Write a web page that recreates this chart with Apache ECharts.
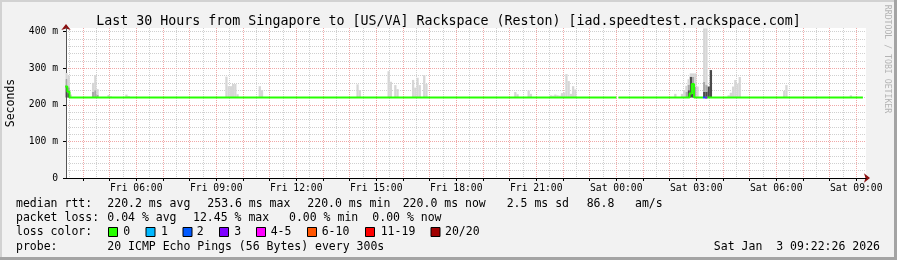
<!DOCTYPE html>
<html><head><meta charset="utf-8">
<script src="https://cdn.jsdelivr.net/npm/echarts@6/dist/echarts.min.js"></script>
<style>html,body{margin:0;padding:0;background:#f2f2f2}#c{width:897px;height:260px}</style>
</head><body><div id="c"></div>
<script>
// Time is expressed in minutes since Fri 00:00.
const axisStart = 202, axisEnd = 2002;
const tickLabels = ['Fri 06:00','Fri 09:00','Fri 12:00','Fri 15:00','Fri 18:00','Fri 21:00','Sat 00:00','Sat 03:00','Sat 06:00','Sat 09:00'];
const yTickValues = [0, 100, 200, 300, 400];

// Median RTT (ms) per loss colour; each point = [step end time, value]; null = no data
const medianLoss0 = [[200,250],[205,250],[210,236],[1440,220],[1445,null],[1450,220],[1605,220],[1610,231],[1615,257],[1635,220],[1640,null],[1645,220],[1995,220]];
const medianLoss2 = [[1635,220],[1640,220]];
const medianLoss3 = [[1640,220],[1645,220]];

// Smoke (ping spread, ms) per 5-minute step centre
const smokeFloor = 220;
const smokeTime = [202.5,207.5,212.5,262.5,267.5,272.5,297.5,302.5,337.5,342.5,
  562.5,567.5,572.5,577.5,582.5,587.5,637.5,642.5,857.5,862.5,
  927.5,932.5,942.5,947.5,982.5,987.5,992.5,997.5,1007.5,1012.5,
  1212.5,1217.5,1242.5,1247.5,1292.5,1297.5,1302.5,1307.5,1312.5,1317.5,
  1322.5,1327.5,1332.5,1337.5,1342.5,1347.5,1572.5,1587.5,1592.5,1597.5,
  1602.5,1607.5,1612.5,1617.5,1622.5,1637.5,1642.5,1647.5,1652.5,1692.5,
  1697.5,1702.5,1707.5,1712.5,1717.5,1817.5,1822.5,1967.5];
const smokeDarkTop = [250,232,220,220,220,220,220,220,220,220,
  220,220,220,220,220,220,220,220,220,220,
  220,220,220,220,220,220,220,220,220,220,
  220,220,220,220,220,220,220,220,220,220,
  220,220,220,220,220,220,220,220,220,220,
  240,277,230,220,220,236,236,250,295,220,
  220,220,220,220,220,220,220,220];
const smokeMidTop = [270,248,222,236,240,228,220,220,220,220,
  220,220,220,220,220,220,220,220,220,220,
  220,220,220,220,220,220,220,220,220,220,
  220,220,220,220,220,220,220,220,220,220,
  220,220,220,220,220,220,220,220,220,235,
  255,277,277,250,220,263,254,250,295,220,
  220,220,220,220,220,220,220,220];
const smokeTop = [287,280,228,260,281,243,227,223,228,224,
  277,251,251,257,257,229,251,240,256,240,
  292,263,254,243,268,247,274,254,281,257,
  235,229,239,230,226,225,228,226,225,232,
  234,284,265,230,251,242,230,230,240,252,
  270,286,286,286,250,409,409,250,295,226,
  233,250,268,258,276,238,254,226];

const lossColors = [['0','#26ff00'],['1','#00b8ff'],['2','#0059ff'],['3','#7e00ff'],['4-5','#ff00ff'],['6-10','#ff5500'],['11-19','#ff0000'],['20/20','#a00000']];

const MONO = '"DejaVu Sans Mono", monospace';

// category axis (one per minute) for grid lines, labels and the smoke bars
const cats = [];
for (let m = axisStart; m <= axisEnd; m++) {
  const d = m < 1440 ? 'Fri' : 'Sat';
  const mm = m % 1440;
  cats.push(d + ' ' + String(Math.floor(mm / 60)).padStart(2, '0') + ':' + String(mm % 60).padStart(2, '0'));
}
const isHalf = (i, v) => v.endsWith(':00') || v.endsWith(':30');
const isHour = (i, v) => v.endsWith(':00');
const catIndex = t => Math.round(t - axisStart);

const base = smokeTime.map(t => [catIndex(t), smokeFloor]);
const dark = smokeTime.map((t, i) => [catIndex(t), smokeDarkTop[i] - smokeFloor]);
const mid = smokeTime.map((t, i) => [catIndex(t), smokeMidTop[i] - smokeDarkTop[i]]);
const light = smokeTime.map((t, i) => [catIndex(t), smokeTop[i] - smokeMidTop[i]]);

function smokeSeries(name, data, color) {
  return { name, type: 'bar', xAxisIndex: 1, yAxisIndex: 1, stack: 'smoke', barWidth: 2.3,
    data, itemStyle: { color }, silent: true, z: 5, animation: false };
}
function medianSeries(name, data, color) {
  return { name, type: 'line', xAxisIndex: 2, yAxisIndex: 1, step: 'start', data,
    showSymbol: false, connectNulls: false, lineStyle: { color, width: 2 }, itemStyle: { color },
    silent: true, z: 6, animation: false };
}

// legend / statistics text
const textRows = [
  [204, [[16,'median rtt:'],[107.3,'220.2 ms avg'],[207.3,'253.6 ms max'],[307.3,'220.0 ms min'],[402.7,'220.0 ms now'],[506.7,'2.5 ms sd'],[586.7,'86.8'],[635,'am/s']]],
  [218.3, [[16,'packet loss:'],[107.3,'0.04 % avg'],[193,'12.45 % max'],[289,'0.00 % min'],[372.3,'0.00 % now']]],
  [232.3, [[16,'loss color:']]],
  [246.7, [[16,'probe:'],[107.3,'20 ICMP Echo Pings (56 Bytes) every 300s']]]
];
const boxX = [108, 145.5, 182.5, 219, 256, 307, 365, 430.5];
const boxLabelX = [123.3, 161, 196.7, 234.3, 270.7, 321.7, 380.7, 445];

const graphics = [];
// frame
graphics.push({ type: 'rect', shape: { x: 0, y: 0, width: 897, height: 2 }, style: { fill: '#d2d2d2' }, silent: true });
graphics.push({ type: 'rect', shape: { x: 0, y: 0, width: 2, height: 260 }, style: { fill: '#d2d2d2' }, silent: true });
graphics.push({ type: 'rect', shape: { x: 0, y: 257, width: 897, height: 3 }, style: { fill: '#a4a4a4' }, silent: true });
graphics.push({ type: 'rect', shape: { x: 894, y: 0, width: 3, height: 260 }, style: { fill: '#a4a4a4' }, silent: true });
textRows.forEach(([y, segs]) => segs.forEach(([x, s]) => graphics.push({
  type: 'text', x, y, silent: true,
  style: { text: s, fontFamily: MONO, fontSize: 11.5, fill: '#000', textAlign: 'left', textVerticalAlign: 'middle', align: 'left', verticalAlign: 'middle' }
})));
lossColors.forEach(([lab, col], i) => {
  graphics.push({ type: 'rect', silent: true, shape: { x: boxX[i] + 0.5, y: 227.5, width: 9, height: 9 }, style: { fill: col, stroke: '#000', lineWidth: 1 } });
  graphics.push({ type: 'text', x: boxLabelX[i], y: 232.3, silent: true,
    style: { text: lab, fontFamily: MONO, fontSize: 11.5, fill: '#000', textAlign: 'left', textVerticalAlign: 'middle', align: 'left', verticalAlign: 'middle' } });
});
graphics.push({ type: 'text', x: 880, y: 246.7, silent: true,
  style: { text: 'Sat Jan  3 09:22:26 2026', fontFamily: MONO, fontSize: 11.5, fill: '#000', textAlign: 'right', textVerticalAlign: 'middle', align: 'right', verticalAlign: 'middle' } });
graphics.push({ type: 'text', x: 887, y: 59, rotation: -Math.PI / 2, silent: true,
  style: { text: 'RRDTOOL / TOBI OETIKER', fontFamily: MONO, fontSize: 8.2, fill: '#b4b4b4', textAlign: 'center', textVerticalAlign: 'middle', align: 'center', verticalAlign: 'middle' } });

const chart = echarts.init(document.getElementById('c'), null, { renderer: 'canvas' });
chart.setOption({
  animation: false,
  backgroundColor: '#f2f2f2',
  title: { text: 'Last 30 Hours from Singapore to [US/VA] Rackspace (Reston) [iad.speedtest.rackspace.com]',
    left: 'center', top: 10, textStyle: { fontFamily: MONO, fontSize: 13.3, fontWeight: 'normal', color: '#000' } },
  grid: { left: 66, top: 28, width: 800, height: 150, show: true, backgroundColor: '#ffffff', borderWidth: 0,
    containLabel: false, outerBoundsMode: 'none' },
  xAxis: [
    { type: 'category', data: cats, boundaryGap: false, position: 'bottom', z: 1,
      axisLine: { show: true, lineStyle: { color: '#8b1010', width: 1 }, symbol: ['none', 'arrow'], symbolSize: [7, 6], symbolOffset: [0, 4] },
      axisTick: { show: false }, axisLabel: { show: false },
      splitLine: { show: true, interval: isHalf, lineStyle: { color: '#d0d0d0', width: 1, type: [1, 1] } } },
    { type: 'category', data: cats, boundaryGap: false, position: 'bottom', z: 2,
      axisLine: { show: true, lineStyle: { color: '#000', width: 1 } },
      axisTick: { show: true, interval: isHour, length: 3, lineStyle: { color: '#000' } },
      axisLabel: { show: true, interval: (i, v) => tickLabels.includes(v), margin: 5, fontFamily: MONO, fontSize: 9.7, color: '#000' },
      splitLine: { show: true, interval: isHour, lineStyle: { color: '#f0a8a8', width: 1, type: [1, 1] } } },
    { type: 'value', min: axisStart, max: axisEnd, show: false }
  ],
  yAxis: [
    { type: 'value', min: 0, max: 410, interval: 20, position: 'left', z: 1,
      axisLine: { show: true, lineStyle: { color: '#8b1010', width: 1 }, symbol: ['none', 'arrow'], symbolSize: [7, 6], symbolOffset: [0, 4] },
      axisTick: { show: false }, axisLabel: { show: false },
      splitLine: { show: true, showMaxLine: false, lineStyle: { color: '#d0d0d0', width: 1, type: [1, 1] } } },
    { type: 'value', min: 0, max: 410, interval: 100, position: 'left', z: 2,
      name: 'Seconds', nameLocation: 'middle', nameRotate: 90, nameGap: 49,
      nameTextStyle: { fontFamily: MONO, fontSize: 11.5, color: '#000' },
      axisLine: { show: true, lineStyle: { color: '#555', width: 1 } },
      axisTick: { show: true, length: 3, customValues: yTickValues, lineStyle: { color: '#000' } },
      axisLabel: { show: true, customValues: yTickValues, margin: 8, fontFamily: MONO, fontSize: 9.7, color: '#000',
        formatter: v => (v % 100 !== 0 ? '' : (v === 0 ? '0' : v + ' m')) },
      splitLine: { show: true, showMaxLine: false, lineStyle: { color: '#f0a8a8', width: 1, type: [1, 1] } } }
  ],
  series: [
    smokeSeries('floor', base, 'rgba(0,0,0,0)'),
    smokeSeries('smoke dark', dark, '#4a4a4a'),
    smokeSeries('smoke mid', mid, '#a8a8a8'),
    smokeSeries('smoke light', light, '#d6d6d6'),
    medianSeries('loss 0', medianLoss0, '#26ff00'),
    medianSeries('loss 2', medianLoss2, '#0059ff'),
    medianSeries('loss 3', medianLoss3, '#7e00ff')
  ],
  graphic: graphics
});
</script></body></html>
